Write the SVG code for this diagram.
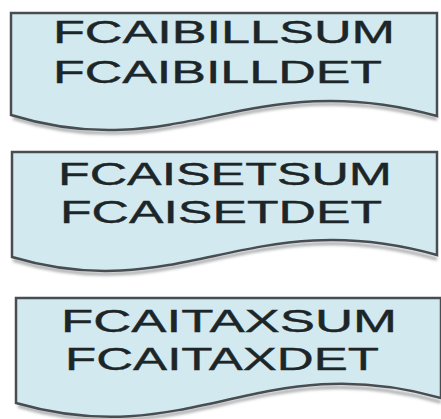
<svg xmlns="http://www.w3.org/2000/svg" width="441" height="419" viewBox="0 0 441 419">
<defs>
<filter id="blur" x="-10%" y="-50%" width="120%" height="200%"><feGaussianBlur stdDeviation="1.5"/></filter>
<style>
.doc{fill:#d3e9f0;stroke:#474d50;stroke-width:2.5;stroke-linejoin:miter}
.sh{fill:none;stroke:#8a8e90;stroke-width:3;filter:url(#blur);opacity:0.8}
.t{font-family:"Liberation Sans",Arial,sans-serif;font-size:32px;fill:#1c2628;stroke:#1c2628;stroke-width:0.4}
</style>
</defs>
<rect width="441" height="419" fill="#ffffff"/>
<g id="doc1">
<path class="sh" d="M437,119 C250,67 180,170 13,118"/>
<path class="doc" d="M11,13 H437 V116 C250,64 180,167 11,115 Z"/>
<text class="t" x="53" y="43" textLength="342" lengthAdjust="spacingAndGlyphs">FCAIBILLSUM</text>
<text class="t" x="53" y="83" textLength="329" lengthAdjust="spacingAndGlyphs">FCAIBILLDET</text>
</g>
<g id="doc2">
<path class="sh" d="M437,259 C250,206 180,310 13,260"/>
<path class="doc" d="M12,152 H437 V255 C250,203 180,307 12,257 Z"/>
<text class="t" x="58" y="185" textLength="334" lengthAdjust="spacingAndGlyphs">FCAISETSUM</text>
<text class="t" x="60" y="223" textLength="322" lengthAdjust="spacingAndGlyphs">FCAISETDET</text>
</g>
<g id="doc3">
<path class="sh" d="M441,402 C260,350 190,456 18,406"/>
<path class="doc" d="M16,298 H441 V398 C260,347 190,453 16,403 Z"/>
<text class="t" x="61" y="332" textLength="336" lengthAdjust="spacingAndGlyphs">FCAITAXSUM</text>
<text class="t" x="65" y="370" textLength="314" lengthAdjust="spacingAndGlyphs">FCAITAXDET</text>
</g>
</svg>
